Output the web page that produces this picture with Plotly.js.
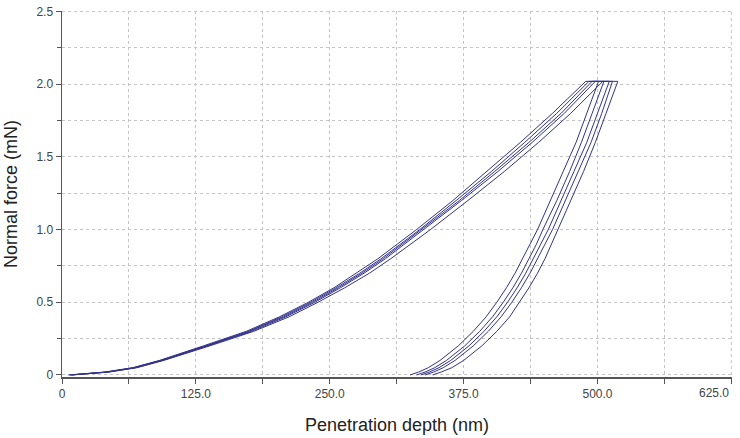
<!DOCTYPE html>
<html>
<head>
<meta charset="utf-8">
<script src="https://cdn.plot.ly/plotly-3.0.1.min.js"></script>
<style>html,body{margin:0;padding:0;background:#fff;}#chart{width:740px;height:438px;}</style>
</head>
<body>
<div id="chart"></div>
<script>
// Force levels (mN) at which depths were read
var forceLevels = [0, 0.02, 0.05, 0.1, 0.2, 0.3, 0.4, 0.5, 0.6, 0.7, 0.8, 0.9, 1.0, 1.2, 1.4, 1.6, 1.8, 2.02];

// Loading curves: penetration depth (nm) at each force level
var loadA = [6, 40, 66, 91, 132, 172, 203, 230, 254, 275, 295, 313, 331, 365, 397, 428, 458, 489];
var loadB = [7, 41, 67, 92, 134, 174, 205, 232, 256, 278, 298, 316, 334, 368, 401, 432, 462, 492];
var loadC = [8, 42, 68, 93, 135, 175, 207, 234, 258, 280, 300, 318, 336, 371, 404, 436, 466, 495];
var loadD = [9, 43, 69, 94, 136, 177, 209, 236, 260, 282, 302, 320, 338, 373, 407, 439, 469, 498];
var loadE = [9, 44, 70, 95, 138, 179, 212, 239, 264, 287, 307, 326, 344, 379, 413, 445, 475, 505];

// Unloading curves: penetration depth (nm) at each force level
var unloadA = [325, 333, 342, 353, 370, 384, 396, 406, 415, 423, 430, 437, 444, 456, 468, 480, 490, 501];
var unloadB = [331, 339, 348, 359, 376, 390, 402, 412, 421, 429, 436, 443, 449, 462, 474, 485, 495, 506];
var unloadC = [335, 343, 352, 363, 380, 394, 406, 416, 425, 433, 440, 447, 454, 466, 478, 490, 500, 511];
var unloadD = [339, 347, 356, 367, 384, 398, 410, 420, 429, 437, 444, 451, 458, 470, 482, 494, 504, 514];
var unloadE = [346, 354, 364, 375, 392, 406, 418, 427, 436, 444, 451, 457, 463, 475, 487, 498, 508, 519];

var xTickVals = [0, 125, 250, 375, 500, 625];
var xTickText = ['0', '125.0', '250.0', '375.0', '500.0', '625.0'];
var yTickVals = [0, 0.5, 1.0, 1.5, 2.0, 2.5];
var yTickText = ['0', '0.5', '1.0', '1.5', '2.0', '2.5'];

var loads = [loadA, loadB, loadC, loadD, loadE];
var unloads = [unloadA, unloadB, unloadC, unloadD, unloadE];

var traces = [];
for (var i = 0; i < loads.length; i++) {
  var x = loads[i].slice().concat(unloads[i].slice().reverse());
  var y = forceLevels.slice().concat(forceLevels.slice().reverse());
  traces.push({
    x: x, y: y, type: 'scatter', mode: 'lines',
    line: {color: '#33338a', width: 1, shape: 'linear'},
    hoverinfo: 'skip', showlegend: false
  });
}

var nX = xTickText.length;
var xMax = xTickVals[nX - 1];
var yMax = yTickVals[yTickVals.length - 1];
// the last x label sits right-aligned to its tick in the reference; draw it as an annotation
var xTickTextShown = xTickText.map(function (t, i) { return i === nX - 1 ? '' : t; });

var tickFont = {family: '"Liberation Sans Narrow", "Liberation Sans", Arial, sans-serif', size: 12, color: '#444'};
var titleFont = {family: '"Liberation Sans", Arial, sans-serif', size: 18, color: '#222'};
var gridCol = '#c4c4c4';

var layout = {
  width: 740, height: 438,
  margin: {l: 62, r: 8, t: 11, b: 61},
  paper_bgcolor: '#fff', plot_bgcolor: '#fff',
  showlegend: false,
  xaxis: {
    range: [0, 625.6], tickvals: xTickVals, ticktext: xTickTextShown,
    showline: true, linecolor: '#555', linewidth: 1.5,
    ticks: 'outside', ticklen: 5, tickcolor: '#555', tickwidth: 1,
    showgrid: true, gridcolor: gridCol, griddash: 'dot', gridwidth: 1,
    zeroline: false, tickfont: tickFont, automargin: false,
    minor: {dtick: 62.5, tick0: 0, showgrid: true, gridcolor: gridCol, griddash: 'dot', ticks: 'outside', ticklen: 5, tickcolor: '#555'},
    title: {text: 'Penetration depth (nm)', font: titleFont, standoff: 18}
  },
  yaxis: {
    range: [-0.014, 2.504], tickvals: yTickVals, ticktext: yTickText,
    showline: true, linecolor: '#555', linewidth: 1.5,
    ticks: 'outside', ticklen: 5, tickcolor: '#555', tickwidth: 1,
    showgrid: true, gridcolor: gridCol, griddash: 'dot', gridwidth: 1,
    zeroline: false, tickfont: tickFont, automargin: false,
    minor: {dtick: 0.25, tick0: 0, showgrid: true, gridcolor: gridCol, griddash: 'dot', ticks: 'outside', ticklen: 4, tickcolor: '#555'},
    title: {text: 'Normal force (mN)', font: titleFont, standoff: 14}
  },
  annotations: [
    {text: xTickText[nX - 1], xref: 'x', yref: 'paper', x: xMax, y: 0, xanchor: 'right', yanchor: 'top',
     yshift: -7, showarrow: false, font: tickFont}
  ],
  shapes: [
    {type: 'line', xref: 'x', yref: 'y', x0: xMax, x1: xMax, y0: 0, y1: yMax,
     line: {color: gridCol, width: 1, dash: 'dot'}, layer: 'below'},
    {type: 'line', xref: 'x', yref: 'y', x0: 0, x1: xMax, y0: yMax, y1: yMax,
     line: {color: gridCol, width: 1, dash: 'dot'}, layer: 'below'}
  ]
};

Plotly.newPlot('chart', traces, layout, {displayModeBar: false, staticPlot: true});
</script>
</body>
</html>
